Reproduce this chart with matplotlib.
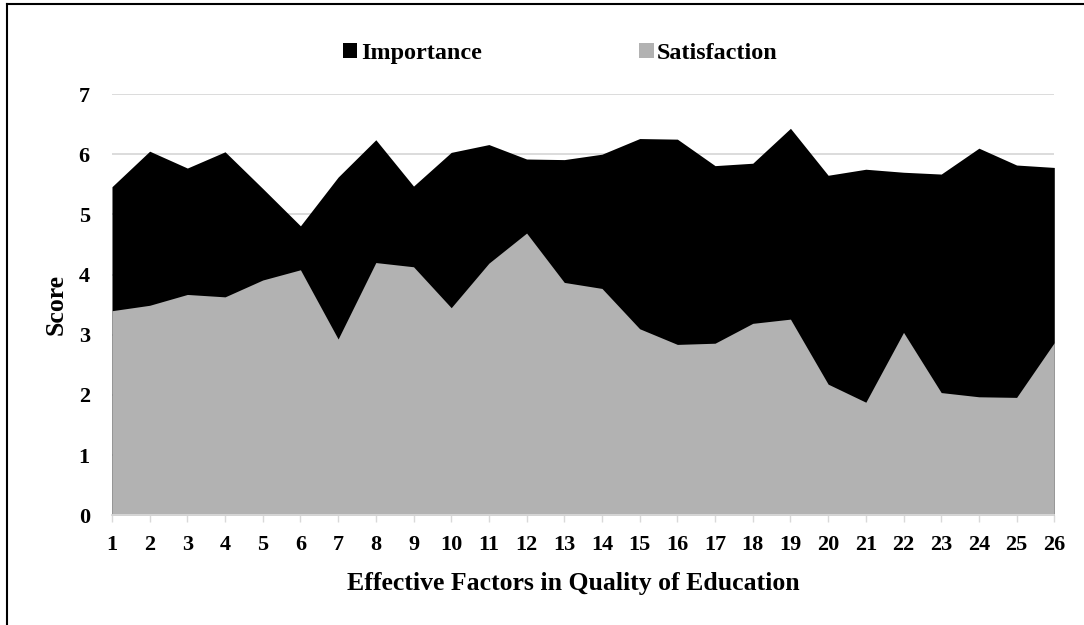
import numpy as np
import matplotlib.pyplot as plt
from matplotlib.patches import Patch
from matplotlib.lines import Line2D

# factors 1..26 on the x axis
factors = np.arange(1, 27)

importance = [5.46, 6.05, 5.77, 6.04, 5.43, 4.81, 5.62, 6.24, 5.47, 6.03,
              6.16, 5.92, 5.91, 6.00, 6.26, 6.25, 5.81, 5.85, 6.43, 5.65,
              5.75, 5.70, 5.67, 6.10, 5.82, 5.78]
satisfaction = [3.40, 3.49, 3.67, 3.63, 3.91, 4.08, 2.93, 4.20, 4.13, 3.45,
                4.19, 4.69, 3.87, 3.77, 3.10, 2.84, 2.86, 3.19, 3.26, 2.18,
                1.88, 3.04, 2.04, 1.97, 1.96, 2.87]

plt.rcParams['font.family'] = ['Liberation Serif', 'DejaVu Serif']
plt.rcParams['font.weight'] = 'bold'

fig = plt.figure(figsize=(10.84, 6.25), dpi=100)
ax = fig.add_axes([0.1033, 0.1754, 0.8693, 0.6742])

ax.fill_between(factors, 0, importance, color='black', linewidth=0, zorder=2)
ax.fill_between(factors, 0, satisfaction, color='#b2b2b2', linewidth=0, zorder=3)

ax.set_xlim(1, 26)
ax.set_ylim(0, 7)
ax.set_xticks(factors)
ax.set_yticks(range(0, 8))
ax.grid(axis='y', color='#d9d9d9', linewidth=1.3, zorder=1)
ax.set_axisbelow(True)

for s in ['top', 'right', 'left']:
    ax.spines[s].set_visible(False)
ax.spines['bottom'].set_color('#d9d9d9')
ax.spines['bottom'].set_linewidth(1.3)
ax.spines['bottom'].set_zorder(4)

ax.tick_params(axis='x', length=5, width=1, color='#d9d9d9', pad=9,
               labelsize=16)
ax.tick_params(axis='y', length=0, pad=16, labelsize=16)
for lab in ax.get_xticklabels() + ax.get_yticklabels():
    lab.set_fontweight('bold')

ax.set_xlabel('Effective Factors in Quality of Education', fontsize=18.5,
              fontweight='bold', labelpad=9)
ax.xaxis.set_label_coords(0.49, -0.135)
ax.set_ylabel('Score', fontsize=18.5, fontweight='bold', labelpad=8)

handles = [Patch(facecolor='black', edgecolor='none', label='Importance'),
           Patch(facecolor='#b2b2b2', edgecolor='none', label='Satisfaction')]
fig.legend(handles=handles, loc='center', bbox_to_anchor=(0.517, 0.915),
           ncol=2, frameon=False, handlelength=0.6, handleheight=0.6,
           handletextpad=0.15, columnspacing=6.5,
           prop={'size': 17.4, 'weight': 'bold'})

# frame line on left and top of the picture
fig.add_artist(Line2D([0.0065, 0.0065], [0, 0.994], transform=fig.transFigure,
                      color='black', linewidth=1.5))
fig.add_artist(Line2D([0.0065, 1], [0.994, 0.994], transform=fig.transFigure,
                      color='black', linewidth=1.5))

fig.savefig('out.png', dpi=100)
